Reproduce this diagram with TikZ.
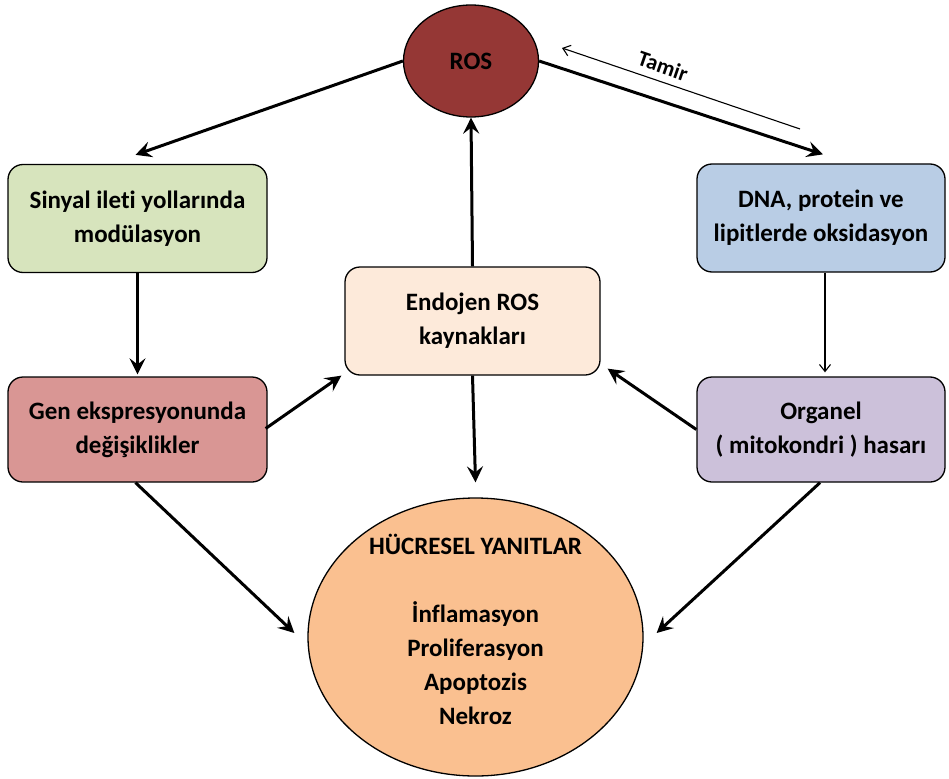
\documentclass[tikz,border=0pt]{standalone}
\usepackage{fontspec}
\setmainfont{Carlito}[Ligatures={NoCommon}]
\usetikzlibrary{shapes.geometric,arrows.meta,calc}
\definecolor{rosc}{HTML}{953735}
\definecolor{sinc}{HTML}{D7E4BD}
\definecolor{dnac}{HTML}{B9CDE5}
\definecolor{endc}{HTML}{FDEADA}
\definecolor{genc}{HTML}{D99694}
\definecolor{orgc}{HTML}{CCC1DA}
\definecolor{huec}{HTML}{FAC090}
\begin{document}
\begin{tikzpicture}[x=1pt,y=-1pt,
  every node/.style={font=\bfseries\fontsize{25}{34}\selectfont, align=center, text=black},
  rbox/.style={draw=black, line width=1.3pt, rounded corners=15pt, inner sep=0pt},
  ell/.style={ellipse, draw=black, line width=1.3pt, inner sep=0pt},
  thk/.style={line width=3pt, -{Stealth[length=16pt,width=16pt,inset=6pt]}},
  thn/.style={line width=1.1pt, -{Straight Barb[length=7pt,width=11pt]}}]
\path[use as bounding box] (0,0) rectangle (949,778);

\node[ell, fill=rosc, minimum width=135pt, minimum height=112pt] (ros) at (471,61) {ROS};
\node[rbox, fill=sinc, minimum width=259pt, minimum height=108pt] (sin) at (137.5,218.5) {Sinyal ileti yollarında\\modülasyon};
\node[rbox, fill=dnac, minimum width=248pt, minimum height=108pt] (dna) at (821,218) {DNA, protein ve\\lipitlerde oksidasyon};
\node[rbox, fill=endc, minimum width=255pt, minimum height=108pt] (endo) at (472.5,321) {Endojen ROS\\kaynakları};
\node[rbox, fill=genc, minimum width=259pt, minimum height=105pt] (gen) at (137.5,429.5) {Gen ekspresyonunda\\değişiklikler};
\node[rbox, fill=orgc, minimum width=248pt, minimum height=105pt] (org) at (821,429.5) {Organel\\( mitokondri ) hasarı};
\node[ell, fill=huec, minimum width=335pt, minimum height=278pt] (hue) at (475.5,637) {};
\node (huetext) at ($(hue.center)+(0,-8)$) {HÜCRESEL YANITLAR\\[34pt]İnflamasyon\\Proliferasyon\\Apoptozis\\Nekroz};

\draw[thk] (ros.west) -- ($(sin.north)+(-2,-9)$);
\draw[thk] (ros.east) -- ($(dna.north)+(2,-9)$);
\coordinate (ta) at (800,129);
\coordinate (tb) at (562,48);
\draw[thn] (ta) -- (tb);
\node[rotate=-19, font=\bfseries\fontsize{22}{26}\selectfont] (tam) at (663,66) {Tamir};

\draw[thk] (sin.south) -- ($(gen.north)+(0,-2)$);
\draw[thn] ($(dna.south)+(4,0)$) -- ($(org.north)+(4,-4)$);
\draw[thk] (endo.north) -- (ros.south);
\draw[thk] (endo.south) -- ($(hue.north)+(0,-15)$);
\draw[thk] ($(gen.east)+(-2,-1)$) -- ($(endo.south west)+(-3,0)$);
\draw[thk] (org.west) -- ($(endo.south east)+(7,-7)$);
\draw[thk] ($(gen.south)+(-2,0)$) -- ($(hue.west)+(-13,-4)$);
\draw[thk] ($(org.south)+(-1,0)$) -- ($(hue.east)+(13,-4)$);
\end{tikzpicture}
\end{document}
